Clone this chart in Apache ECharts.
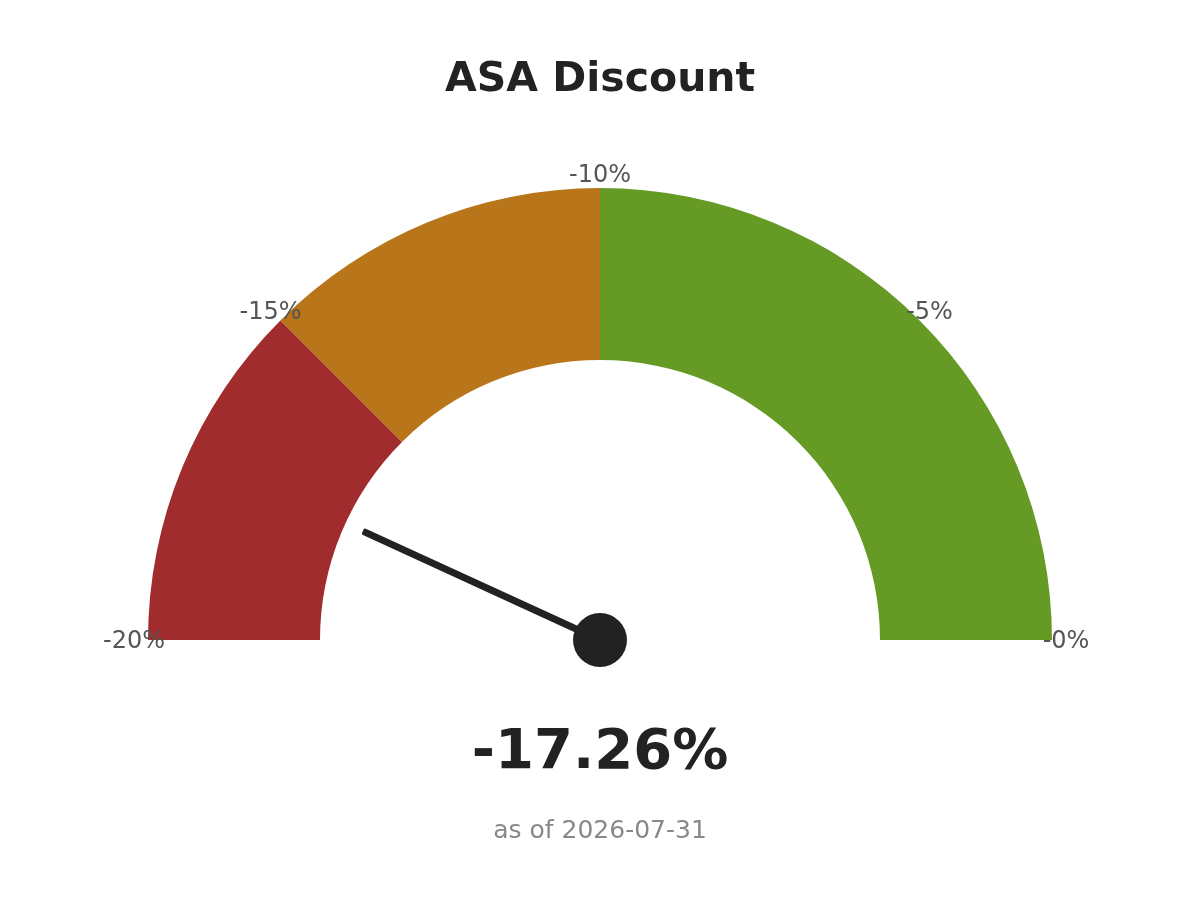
<!DOCTYPE html>
<html>
<head>
<meta charset="utf-8">
<script src="https://cdn.jsdelivr.net/npm/echarts@6/dist/echarts.min.js"></script>
<style>html,body{margin:0;padding:0;background:#fff}#c{width:1200px;height:919px}</style>
</head>
<body>
<div id="c"></div>
<script>
const titleText = 'ASA Discount';
const subtitleText = 'as of 2026-07-31';
const gaugeMin = -20;
const gaugeMax = 0;
const bandEnds = [-15, -10, 0];
const bandColors = ['#A12C2E', '#B8751A', '#659A24'];
const tickValues = [-20, -15, -10, -5, 0];
const tickLabels = ['-20%', '-15%', '-10%', '-5%', '-0%'];
const currentValue = -17.26;

const chart = echarts.init(document.getElementById('c'));
const colorStops = bandEnds.map((v, i) => [(v - gaugeMin) / (gaugeMax - gaugeMin), bandColors[i]]);
chart.setOption({
  animation: false,
  title: {
    text: titleText, left: 'center', top: 55,
    textStyle: {fontSize: 41, fontWeight: 'bold', color: '#222', fontFamily: 'DejaVu Sans'}
  },
  graphic: [{
    type: 'text', left: 'center', top: 819,
    style: {text: subtitleText, fontSize: 25, fill: '#888', fontFamily: 'DejaVu Sans'}
  }],
  series: [{
    type: 'gauge',
    center: [600, 640],
    radius: 452,
    startAngle: 180, endAngle: 0,
    min: gaugeMin, max: gaugeMax,
    splitNumber: tickValues.length - 1,
    axisLine: {lineStyle: {width: 172, color: colorStops}},
    splitLine: {show: false, length: 0, distance: 0},
    axisTick: {show: false},
    axisLabel: {
      distance: -14,
      fontSize: 24, color: '#555', fontFamily: 'DejaVu Sans',
      padding: [-10, -32, -14, -32],
      formatter: v => { const i = tickValues.findIndex(t => Math.abs(t - v) < 1e-6); return i >= 0 ? '{t|' + tickLabels[i] + '}' : ''; },
      rich: {t: {width: 64, align: 'center', fontSize: 24, color: '#555', fontFamily: 'DejaVu Sans'}}
    },
    pointer: {show: true, icon: 'roundRect', width: 7, length: 261, offsetCenter: [0, 0], itemStyle: {color: '#222'}},
    anchor: {show: true, showAbove: true, size: 54, itemStyle: {color: '#222'}},
    title: {show: false},
    detail: {
      valueAnimation: false, offsetCenter: [0, 113],
      fontSize: 56, fontWeight: 'bold', color: '#222', fontFamily: 'DejaVu Sans',
      formatter: v => v.toFixed(2) + '%'
    },
    data: [{value: currentValue}]
  }]
});
</script>
</body>
</html>
